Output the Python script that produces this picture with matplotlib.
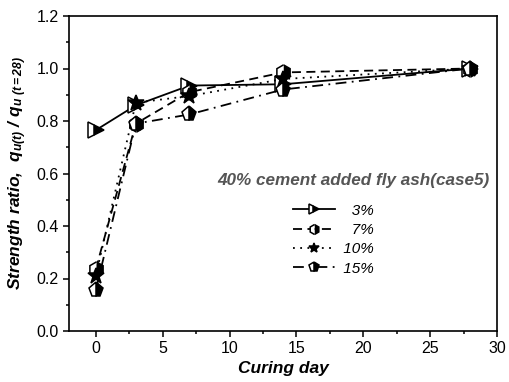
import matplotlib
matplotlib.use("Agg")
import matplotlib.pyplot as plt
from matplotlib.lines import Line2D
from matplotlib.ticker import MultipleLocator

plt.rcParams['font.family'] = ['Liberation Sans', 'DejaVu Sans']
plt.rcParams['mathtext.fontset'] = 'custom'
plt.rcParams['mathtext.rm'] = 'Liberation Sans:bold:italic'
plt.rcParams['mathtext.it'] = 'Liberation Sans:bold:italic'
plt.rcParams['mathtext.bf'] = 'Liberation Sans:bold:italic'

days = [0, 3, 7, 14, 28]
labels = ['3%', '7%', '10%', '15%']
ratio_3 = [0.765, 0.86, 0.935, 0.94, 1.0]
ratio_7 = [0.235, 0.79, 0.91, 0.985, 1.0]
ratio_10 = [0.21, 0.87, 0.895, 0.96, 1.0]
ratio_15 = [0.155, 0.79, 0.825, 0.92, 1.0]
series = [ratio_3, ratio_7, ratio_10, ratio_15]

styles = [
    dict(ls='-', marker='>', fillstyle='right', ms=11),
    dict(ls=(0, (5, 3)), marker='h', fillstyle='right', ms=11),
    dict(ls=(0, (1, 3)), marker='*', fillstyle='full', ms=12),
    dict(ls=(0, (6, 3, 1, 3)), marker='p', fillstyle='right', ms=11),
]

fig = plt.figure(figsize=(5.09, 3.82), dpi=100)
ax = fig.add_axes([69/509, 1-331/382, (497-69)/509, (331-16)/382])

handles = []
for vals, lab, st in zip(series, labels, styles):
    common = dict(color='black', lw=1.3, linestyle=st['ls'], marker=st['marker'],
                  fillstyle=st['fillstyle'], markerfacecolor='black',
                  markerfacecoloralt='white', markeredgecolor='black',
                  markeredgewidth=1.1)
    ax.plot(days, vals, ms=st['ms'], label=lab, **common)
    # smaller symbol for the key
    handles.append(Line2D([], [], ms=st['ms'] * 0.65, **common))

ax.set_xlim(-2, 30)
ax.set_ylim(0, 1.2)
ax.xaxis.set_major_locator(MultipleLocator(5))
ax.xaxis.set_minor_locator(MultipleLocator(2.5))
ax.yaxis.set_minor_locator(MultipleLocator(0.1))
ax.set_yticks([0, 0.2, 0.4, 0.6, 0.8, 1.0, 1.2])
ax.set_yticklabels(['0.0', '0.2', '0.4', '0.6', '0.8', '1.0', '1.2'])
ax.tick_params(which='major', direction='out', length=4, width=1.1, labelsize=11.5)
ax.tick_params(which='minor', direction='out', length=2.5, width=1.1)
for s in ax.spines.values():
    s.set_linewidth(1.2)

ax.set_xlabel('Curing day', fontsize=12.5, fontweight='bold', fontstyle='italic', labelpad=3)
ax.set_ylabel(r'Strength ratio,  $q_{u(t)}$ / $q_{u\ (t=28)}$', fontsize=12.5,
              fontweight='bold', fontstyle='italic', labelpad=5)

fig.text(490/509, 1-181/382, '40% cement added fly ash(case5)', ha='right', va='center',
         fontsize=12.3, fontweight='bold', fontstyle='italic', color='#555555')

leg = ax.legend(handles=handles, labels=['   3%', '   7%', ' 10%', ' 15%'],
                loc='upper left', bbox_to_anchor=(282/509, 1-193/382),
                bbox_transform=fig.transFigure, frameon=False,
                prop=dict(size=11, style='italic'), handlelength=2.8,
                handletextpad=0.2, labelspacing=0.35, borderpad=0.2)

fig.savefig('out.png', dpi=100)
